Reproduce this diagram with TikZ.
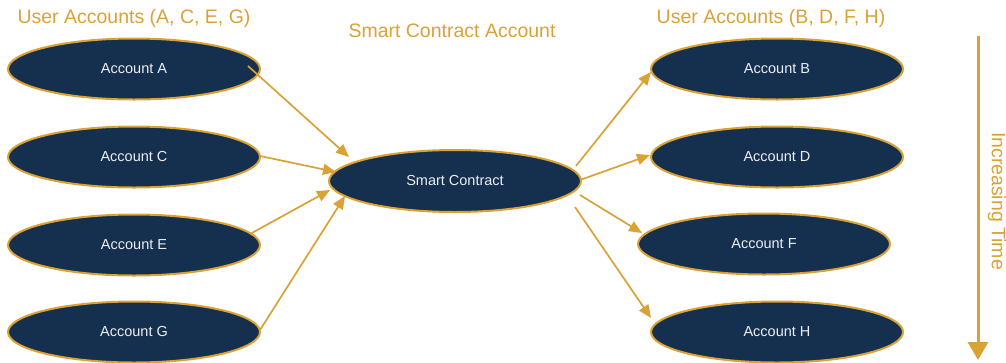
\documentclass[tikz,border=0pt]{standalone}
\usepackage{fontspec}
\setmainfont{Liberation Sans}
\usetikzlibrary{shapes.geometric,arrows.meta}
\definecolor{navy}{HTML}{15304F}
\definecolor{gold}{HTML}{DAA135}
\tikzset{
  acct/.style={ellipse, draw=gold, line width=2pt, fill=navy, minimum width=252pt, minimum height=61pt, inner sep=0pt, text=white!92!navy, font=\fontsize{14.5}{16}\selectfont},
  flow/.style={draw=gold, line width=1.7pt, -{Triangle[length=13pt,width=11pt]}},
  hdr/.style={text=gold, font=\fontsize{19.5}{22}\selectfont, inner sep=0pt}
}
\begin{document}
\begin{tikzpicture}[x=1pt,y=-1pt]
\useasboundingbox (0,0) rectangle (1006,362);
\node[acct] (A) at (134,69) {Account A};
\node[acct] (C) at (134,157) {Account C};
\node[acct] (E) at (134,245) {Account E};
\node[acct] (G) at (134,332) {Account G};
\node[acct, minimum height=62pt] (SC) at (455,181) {Smart Contract};
\node[acct] (B) at (777,69) {Account B};
\node[acct] (D) at (777,157) {Account D};
\node[acct] (F) at (764,244) {Account F};
\node[acct] (H) at (777,332) {Account H};
\node[hdr] (h1) at (134,18) {User Accounts (A, C, E, G)};
\node[hdr] (h2) at (452,31) {Smart Contract Account};
\node[hdr] (h3) at (771,18) {User Accounts (B, D, F, H)};
\draw[flow] ([shift={(114,-3)}]A.center) -- ([shift={(-106,-24)}]SC.center);
\draw[flow] ([shift={(126,-1)}]C.center) -- ([shift={(-119,-9)}]SC.center);
\draw[flow] ([shift={(116,-11)}]E.center) -- ([shift={(-125,9)}]SC.center);
\draw[flow] ([shift={(126,-2)}]G.center) -- ([shift={(-110,15)}]SC.center);
\draw[flow] ([shift={(121,-15)}]SC.center) -- ([shift={(-126,3)}]B.center);
\draw[flow] ([shift={(125,-1)}]SC.center) -- ([shift={(-127,-2)}]D.center);
\draw[flow] ([shift={(125,14)}]SC.center) -- ([shift={(-122,-11)}]F.center);
\draw[flow] ([shift={(120,26)}]SC.center) -- ([shift={(-126,-14)}]H.center);
\coordinate (t1) at (978,36);
\coordinate (t2) at (978,360);
\draw[draw=gold, line width=3pt, -{Triangle[length=18pt,width=20pt]}] (t1) -- (t2);
\node[text=gold, font=\fontsize{19.5}{22}\selectfont, rotate=-90, inner sep=0pt] (tl) at (997,201) {Increasing Time};
\end{tikzpicture}
\end{document}
